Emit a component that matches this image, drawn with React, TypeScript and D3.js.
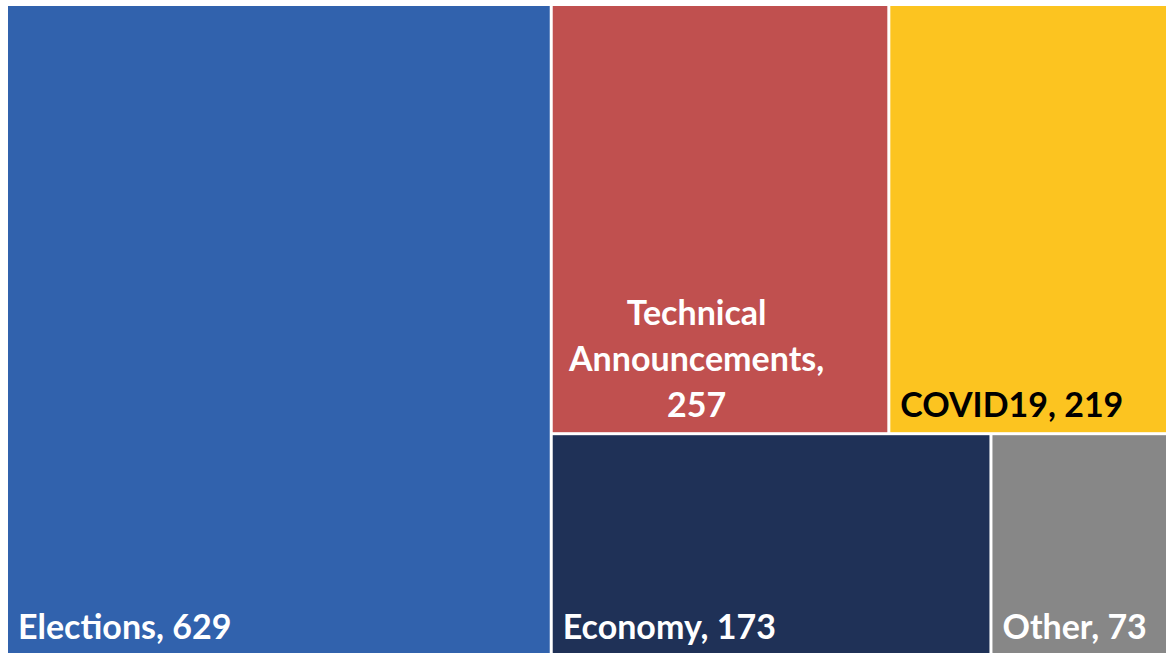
import React, { useEffect, useRef } from 'react';
import * as d3 from 'd3';

const categories = ['Elections', 'Technical Announcements', 'COVID19', 'Economy', 'Other'];
const counts = [629, 257, 219, 173, 73];
const fills = ['#3162ad', '#c0504f', '#fcc420', '#1f3157', '#878787'];
const textColors = ['#ffffff', '#ffffff', '#000000', '#ffffff', '#ffffff'];
const wrapped = [false, true, false, false, false];

const App = () => {
  const width = 1166,
    height = 653,
    margin = { left: 8, top: 6 };
  const svgRef = useRef(null);

  useEffect(() => {
    const svg = d3.select(svgRef.current);
    svg.selectAll('*').remove();

    const root = d3.hierarchy({
      children: categories.map((name, i) => ({ name, value: counts[i], i }))
    })
      .sum(d => d.value || 0)
      .sort((a, b) => b.value - a.value);

    // the original is cropped a little on the right and bottom
    d3.treemap()
      .tile(d3.treemapSquarify)
      .size([1167, 648])
      .paddingInner(3)
      .round(false)(root);

    const cell = svg.append('g')
      .attr('transform', `translate(${margin.left},${margin.top})`)
      .selectAll('g')
      .data(root.leaves())
      .join('g');

    cell.append('rect')
      .attr('x', d => d.x0)
      .attr('y', d => d.y0)
      .attr('width', d => d.x1 - d.x0)
      .attr('height', d => d.y1 - d.y0)
      .attr('fill', d => fills[d.data.i]);

    const label = cell.append('text')
      .attr('font-family', 'Lato, "Open Sans", sans-serif')
      .attr('font-weight', 700)
      .attr('font-size', 34)
      .attr('fill', d => textColors[d.data.i]);

    // single-line labels sit bottom-left
    label.filter(d => !wrapped[d.data.i])
      .attr('x', d => d.x0 + 10)
      .attr('y', d => d.y1 - 15)
      .text(d => `${d.data.name}, ${d.data.value}`);

    // the narrow box gets its label broken into lines
    label.filter(d => wrapped[d.data.i])
      .attr('text-anchor', 'middle')
      .each(function (d) {
        const words = `${d.data.name}, ${d.data.value}`.split(' ');
        const cx = d.x0 + (d.x1 - d.x0) * 0.43;
        d3.select(this).selectAll('tspan')
          .data(words)
          .join('tspan')
          .attr('x', cx)
          .attr('y', (w, k) => d.y1 - 15 - (words.length - 1 - k) * 46)
          .text(w => w);
      });
  }, []);

  return (
    <svg
      ref={svgRef}
      width={width}
      height={height}
      style={{ position: 'absolute', left: 0, top: 0, background: '#ffffff' }}
    ></svg>
  );
};

export default App;
